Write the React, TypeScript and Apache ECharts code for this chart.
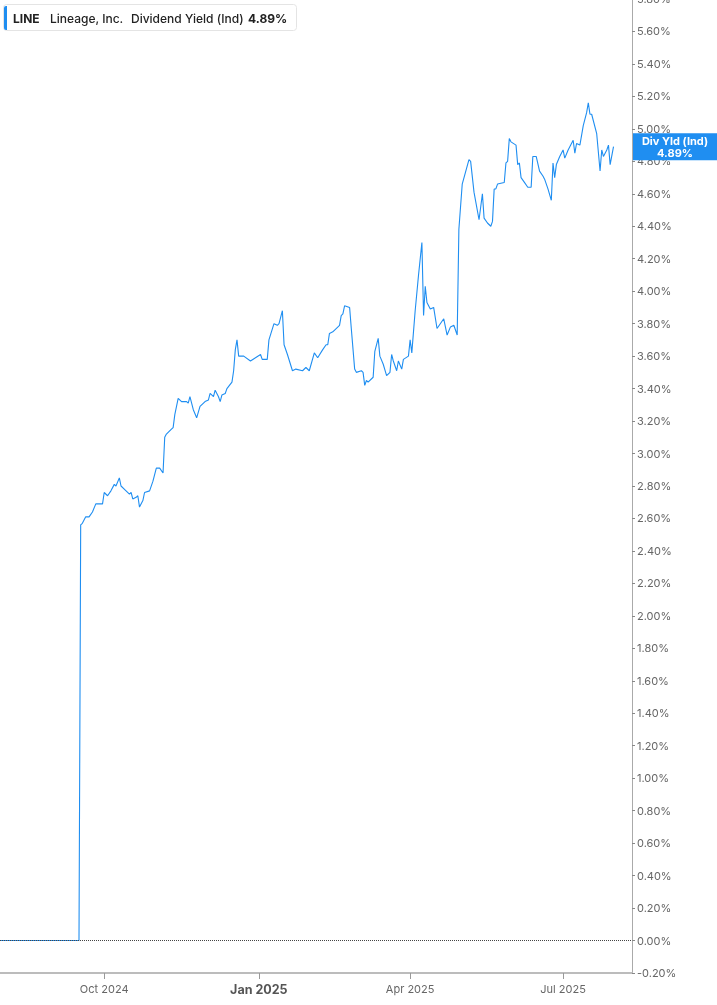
import * as echarts from 'echarts';
import { useEffect, useRef } from 'react';

// Dividend yield (Ind), %
const dates = [
  '2024-07-31', '2024-09-16', '2024-09-17', '2024-09-18', '2024-09-20', '2024-09-22', '2024-09-24', '2024-09-26', '2024-09-30',
  '2024-10-01', '2024-10-03', '2024-10-05', '2024-10-07', '2024-10-08', '2024-10-10', '2024-10-11', '2024-10-14', '2024-10-16',
  '2024-10-17', '2024-10-18', '2024-10-20', '2024-10-21', '2024-10-22', '2024-10-24', '2024-10-25', '2024-10-28', '2024-10-30',
  '2024-11-01', '2024-11-03', '2024-11-05', '2024-11-06', '2024-11-07', '2024-11-10', '2024-11-11', '2024-11-12', '2024-11-14',
  '2024-11-16', '2024-11-19', '2024-11-20', '2024-11-21', '2024-11-23', '2024-11-25', '2024-11-27', '2024-11-30',
  '2024-12-02', '2024-12-03', '2024-12-05', '2024-12-06', '2024-12-08', '2024-12-09', '2024-12-10', '2024-12-12', '2024-12-13',
  '2024-12-16', '2024-12-17', '2024-12-18', '2024-12-19', '2024-12-20', '2024-12-23', '2024-12-27', '2024-12-30',
  '2025-01-02', '2025-01-03', '2025-01-06', '2025-01-07', '2025-01-10', '2025-01-12', '2025-01-13', '2025-01-15', '2025-01-16',
  '2025-01-18', '2025-01-21', '2025-01-23', '2025-01-27', '2025-01-29', '2025-01-31',
  '2025-02-03', '2025-02-05', '2025-02-08', '2025-02-10', '2025-02-11', '2025-02-12', '2025-02-14', '2025-02-18', '2025-02-19',
  '2025-02-20', '2025-02-21', '2025-02-24', '2025-02-25', '2025-02-27', '2025-02-28',
  '2025-03-03', '2025-03-04', '2025-03-05', '2025-03-06', '2025-03-07', '2025-03-10', '2025-03-11', '2025-03-13', '2025-03-14',
  '2025-03-16', '2025-03-18', '2025-03-20', '2025-03-21', '2025-03-22', '2025-03-24', '2025-03-25', '2025-03-27', '2025-03-28',
  '2025-03-31',
  '2025-04-01', '2025-04-02', '2025-04-04', '2025-04-06', '2025-04-08', '2025-04-09', '2025-04-10', '2025-04-11', '2025-04-13',
  '2025-04-15', '2025-04-17', '2025-04-21', '2025-04-23', '2025-04-25', '2025-04-27', '2025-04-29', '2025-04-30',
  '2025-05-02', '2025-05-06', '2025-05-07', '2025-05-09', '2025-05-12', '2025-05-14', '2025-05-15', '2025-05-17', '2025-05-19',
  '2025-05-20', '2025-05-21', '2025-05-22', '2025-05-23', '2025-05-27', '2025-05-28', '2025-05-29', '2025-05-30', '2025-05-31',
  '2025-06-03', '2025-06-04', '2025-06-05', '2025-06-06', '2025-06-08', '2025-06-10', '2025-06-12', '2025-06-13', '2025-06-15',
  '2025-06-17', '2025-06-19', '2025-06-20', '2025-06-22', '2025-06-24', '2025-06-25', '2025-06-26', '2025-06-27', '2025-06-29',
  '2025-07-01', '2025-07-02', '2025-07-04', '2025-07-07', '2025-07-08', '2025-07-09', '2025-07-11', '2025-07-13', '2025-07-15',
  '2025-07-16', '2025-07-17', '2025-07-18', '2025-07-21', '2025-07-23', '2025-07-24', '2025-07-25', '2025-07-27', '2025-07-28',
  '2025-07-29', '2025-07-31',
];

const divYield = [
  0, 0, 2.56, 2.57, 2.61, 2.61, 2.64, 2.69, 2.69,
  2.76, 2.74, 2.77, 2.81, 2.80, 2.85, 2.80, 2.77, 2.75,
  2.76, 2.72, 2.73, 2.74, 2.67, 2.71, 2.76, 2.77, 2.83,
  2.91, 2.91, 2.88, 3.10, 3.12, 3.15, 3.16, 3.24, 3.34,
  3.32, 3.32, 3.31, 3.35, 3.27, 3.22, 3.29, 3.32,
  3.33, 3.37, 3.35, 3.39, 3.35, 3.32, 3.36, 3.37, 3.40,
  3.44, 3.51, 3.64, 3.70, 3.60, 3.60, 3.57, 3.59,
  3.61, 3.58, 3.58, 3.70, 3.80, 3.79, 3.80, 3.88, 3.67,
  3.61, 3.51, 3.52, 3.51, 3.53, 3.51,
  3.62, 3.59, 3.64, 3.67, 3.67, 3.74, 3.75, 3.79, 3.85,
  3.86, 3.91, 3.90, 3.77, 3.52, 3.50,
  3.51, 3.50, 3.42, 3.45, 3.44, 3.47, 3.63, 3.71, 3.60,
  3.55, 3.48, 3.50, 3.61, 3.57, 3.51, 3.57, 3.52, 3.58,
  3.60,
  3.70, 3.62, 3.88, 4.10, 4.30, 3.85, 4.03, 3.93, 3.89,
  3.90, 3.77, 3.83, 3.73, 3.78, 3.79, 3.73, 4.38,
  4.66, 4.81, 4.80, 4.61, 4.44, 4.60, 4.45, 4.42, 4.40,
  4.43, 4.63, 4.63, 4.66, 4.67, 4.79, 4.80, 4.94, 4.92,
  4.90, 4.78, 4.79, 4.70, 4.67, 4.64, 4.64, 4.83, 4.83,
  4.74, 4.71, 4.69, 4.63, 4.56, 4.79, 4.70, 4.78, 4.83,
  4.87, 4.82, 4.87, 4.93, 4.85, 4.91, 4.90, 5.02, 5.10,
  5.16, 5.09, 5.09, 4.97, 4.74, 4.87, 4.83, 4.87, 4.90,
  4.78, 4.89,
];

const xTickDates = ['2024-10-01', '2025-01-01', '2025-04-01', '2025-07-01'];
const monthNames = ['Jan', 'Feb', 'Mar', 'Apr', 'May', 'Jun', 'Jul', 'Aug', 'Sep', 'Oct', 'Nov', 'Dec'];

const ticker = 'LINE';
const company = 'Lineage, Inc.';
const metric = 'Dividend Yield (Ind)';
const lastValue = 4.89;

const FONT = 'Inter, Roboto, sans-serif';
const BLUE = '#1f8ef1';

function toTime(s: string) {
  const [y, m, d] = s.split('-').map(Number);
  return new Date(y, m - 1, d).getTime();
}

export default function App() {
  const elRef = useRef<HTMLDivElement | null>(null);

  useEffect(() => {
    if (!elRef.current) return;
    const chart = echarts.init(elRef.current, undefined, { renderer: 'svg' });

    const tickTimes = xTickDates.map(toTime);

    chart.setOption({
      animation: false,
      textStyle: { fontFamily: FONT },
      grid: { left: 0, right: 85, top: -1, bottom: 32, outerBoundsMode: 'none' },
      xAxis: {
        type: 'value',
        min: toTime('2024-07-31'),
        max: toTime('2025-08-11'),
        splitLine: { show: false },
        axisLine: { onZero: false, lineStyle: { color: '#bcbcbc', width: 2 } },
        axisTick: { customValues: tickTimes, length: 6, lineStyle: { color: '#999' } },
        axisLabel: {
          customValues: tickTimes,
          margin: 10,
          color: '#666',
          fontSize: 11,
          fontFamily: FONT,
          formatter: (v: number) => {
            const d = new Date(v);
            const s = `${monthNames[d.getMonth()]} ${d.getFullYear()}`;
            return d.getMonth() === 0 ? `{b|${s}}` : s;
          },
          rich: {
            b: { fontWeight: 'bold', fontSize: 12.5, color: '#555', fontFamily: FONT },
          },
        },
      },
      yAxis: {
        type: 'value',
        position: 'right',
        min: -0.2,
        max: 5.8,
        interval: 0.2,
        splitLine: { show: false },
        axisLine: { show: true, lineStyle: { color: '#aaa', width: 1 } },
        axisTick: { show: true, length: 3, lineStyle: { color: '#888' } },
        axisLabel: {
          margin: 5,
          color: '#666',
          fontSize: 11,
          fontFamily: FONT,
          formatter: (v: number) => `${v.toFixed(2)}%`,
        },
      },
      series: [
        {
          type: 'line',
          data: dates.map((d, i) => [toTime(d), divYield[i]]),
          showSymbol: false,
          symbol: 'none',
          lineStyle: { color: BLUE, width: 1.1 },
          z: 3,
          markLine: {
            silent: true,
            symbol: 'none',
            animation: false,
            data: [
              {
                yAxis: 0,
                lineStyle: { type: 'dotted', color: '#444', width: 1 },
                label: { show: false },
              },
              {
                yAxis: lastValue,
                lineStyle: { color: 'rgba(0,0,0,0)', width: 0 },
                label: {
                  show: true,
                  position: 'end',
                  distance: 1,
                  formatter: `{a|Div Yld (Ind)}\n{a|${lastValue.toFixed(2)}%}`,
                  backgroundColor: BLUE,
                  padding: [2, 8, 1, 8],
                  rich: {
                    a: {
                      width: 68,
                      align: 'center',
                      color: '#fff',
                      fontWeight: 'bold',
                      fontSize: 11,
                      fontFamily: FONT,
                      lineHeight: 12,
                    },
                  },
                },
              },
            ],
          },
        },
      ],
      graphic: [
        {
          type: 'group',
          children: [
            {
              type: 'rect',
              shape: { x: 3.5, y: 4.5, width: 293, height: 26, r: 3 },
              style: { fill: '#fff', stroke: '#e4e4e4', lineWidth: 1 },
            },
            {
              type: 'rect',
              shape: { x: 4, y: 6, width: 3, height: 24, r: [2, 0, 0, 2] },
              style: { fill: BLUE },
            },
            {
              type: 'text',
              x: 13,
              y: 18,
              style: { text: ticker, font: `bold 12px ${FONT}`, fill: '#222', verticalAlign: 'middle' },
            },
            {
              type: 'text',
              x: 50,
              y: 18,
              style: { text: company, font: `500 12px ${FONT}`, fill: '#222', verticalAlign: 'middle' },
            },
            {
              type: 'text',
              x: 131,
              y: 18,
              style: { text: metric, font: `500 12px ${FONT}`, fill: '#222', verticalAlign: 'middle' },
            },
            {
              type: 'text',
              x: 248,
              y: 18,
              style: { text: `${lastValue.toFixed(2)}%`, font: `bold 12px ${FONT}`, fill: '#222', verticalAlign: 'middle' },
            },
          ],
        },
      ],
    });

    return () => chart.dispose();
  }, []);

  return <div ref={elRef} style={{ position: 'fixed', left: 0, top: 0, width: 717, height: 1005 }} />;
}
